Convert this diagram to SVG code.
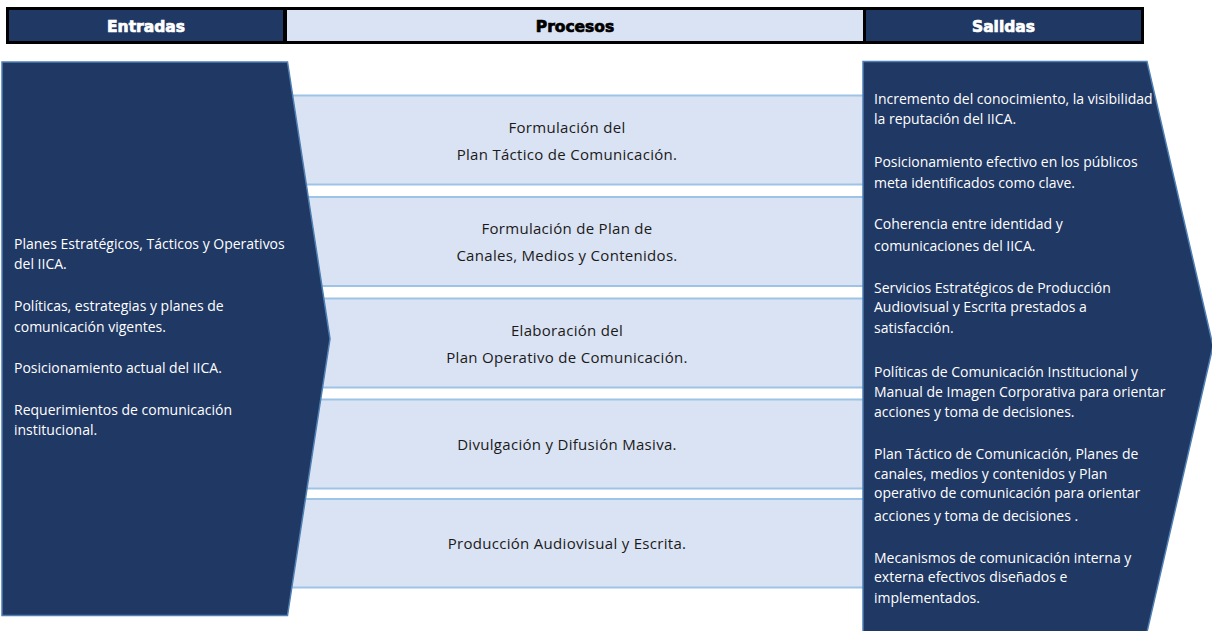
<svg xmlns="http://www.w3.org/2000/svg" width="1212" height="631" viewBox="0 0 1212 631">
<style>
.hdr{font-family:"DejaVu Sans","Liberation Sans",sans-serif;font-weight:bold;font-size:15.5px;text-anchor:middle;stroke-width:0.7px}
.side{font-family:"Open Sans","Noto Sans",sans-serif;font-size:14px;fill:#FFFFFF}
.proc{font-family:"Open Sans","Noto Sans",sans-serif;font-size:15px;letter-spacing:0.3px;fill:#1A1A1A;text-anchor:middle}
.band{fill:#DAE3F3;stroke:#9DC3E6;stroke-width:2}
.chev{fill:#203864;stroke:#4F7FB3;stroke-width:1.5}
</style>
<defs>
<clipPath id="rclip"><polygon points="863,61.5 1147,61.5 1213,346 1147,632 863,632"/></clipPath>
</defs>
<rect width="1212" height="631" fill="#FFFFFF"/>
<g id="header">
<rect x="6" y="7" width="1138" height="37" fill="#000000"/>
<rect x="9" y="10" width="274" height="31" fill="#203864"/>
<rect x="287" y="10" width="576" height="31" fill="#DAE3F3"/>
<rect x="866" y="10" width="275" height="31" fill="#203864"/>
<text class="hdr" x="146" y="32" fill="#FFFFFF" stroke="#FFFFFF">Entradas</text>
<text class="hdr" x="575" y="32" fill="#000000" stroke="#000000">Procesos</text>
<text class="hdr" x="1003.5" y="32" fill="#FFFFFF" stroke="#FFFFFF">Salidas</text>
</g>
<g id="proc1"><rect class="band" x="200" y="95.5" width="700" height="89"/>
<text class="proc" x="567" y="133.3">Formulación del</text>
<text class="proc" x="567" y="160">Plan Táctico de Comunicación.</text></g>
<g id="proc2"><rect class="band" x="200" y="197" width="700" height="89"/>
<text class="proc" x="567" y="234">Formulación de Plan de</text>
<text class="proc" x="567" y="260.5">Canales, Medios y Contenidos.</text></g>
<g id="proc3"><rect class="band" x="200" y="298.5" width="700" height="89"/>
<text class="proc" x="567" y="336">Elaboración del</text>
<text class="proc" x="567" y="362.7">Plan Operativo de Comunicación.</text></g>
<g id="proc4"><rect class="band" x="200" y="399.5" width="700" height="89"/>
<text class="proc" x="567" y="450">Divulgación y Difusión Masiva.</text></g>
<g id="proc5"><rect class="band" x="200" y="499" width="700" height="88.5"/>
<text class="proc" x="567" y="549.3">Producción Audiovisual y Escrita.</text></g>
<g id="entradas">
<polygon class="chev" points="2,62 287.5,62 330,338.8 287.5,615.5 2,615.5"/>
<text class="side" x="14" y="249.3">Planes Estratégicos, Tácticos y Operativos</text>
<text class="side" x="14" y="268.7">del IICA.</text>
<text class="side" x="14" y="311">Políticas, estrategias y planes de</text>
<text class="side" x="14" y="331.7">comunicación vigentes.</text>
<text class="side" x="14" y="373.3">Posicionamiento actual del IICA.</text>
<text class="side" x="14" y="415">Requerimientos de comunicación</text>
<text class="side" x="14" y="435">institucional.</text>
</g>
<g id="salidas">
<polygon class="chev" points="863,61.5 1147,61.5 1213,346 1147,632 863,632"/>
<g clip-path="url(#rclip)">
<text class="side" x="874" y="104">Incremento del conocimiento, la visibilidad</text>
<text class="side" x="874" y="124.3">la reputación del IICA.</text>
<text class="side" x="874" y="166.7">Posicionamiento efectivo en los públicos</text>
<text class="side" x="874" y="187.7">meta identificados como clave.</text>
<text class="side" x="874" y="229.3">Coherencia entre identidad y</text>
<text class="side" x="874" y="251">comunicaciones del IICA.</text>
<text class="side" x="874" y="292.7">Servicios Estratégicos de Producción</text>
<text class="side" x="874" y="311.7">Audiovisual y Escrita prestados a</text>
<text class="side" x="874" y="333.3">satisfacción.</text>
<text class="side" x="874" y="376.7">Políticas de Comunicación Institucional y</text>
<text class="side" x="874" y="396.7">Manual de Imagen Corporativa para orientar</text>
<text class="side" x="874" y="417.3">acciones y toma de decisiones.</text>
<text class="side" x="874" y="459.3">Plan Táctico de Comunicación, Planes de</text>
<text class="side" x="874" y="479.3">canales, medios y contenidos y Plan</text>
<text class="side" x="874" y="498.3">operativo de comunicación para orientar</text>
<text class="side" x="874" y="520.7">acciones y toma de decisiones .</text>
<text class="side" x="874" y="562.7">Mecanismos de comunicación interna y</text>
<text class="side" x="874" y="582.3">externa efectivos diseñados e</text>
<text class="side" x="874" y="603.3">implementados.</text>
</g>
</g>
<g id="connectors"/>
</svg>
